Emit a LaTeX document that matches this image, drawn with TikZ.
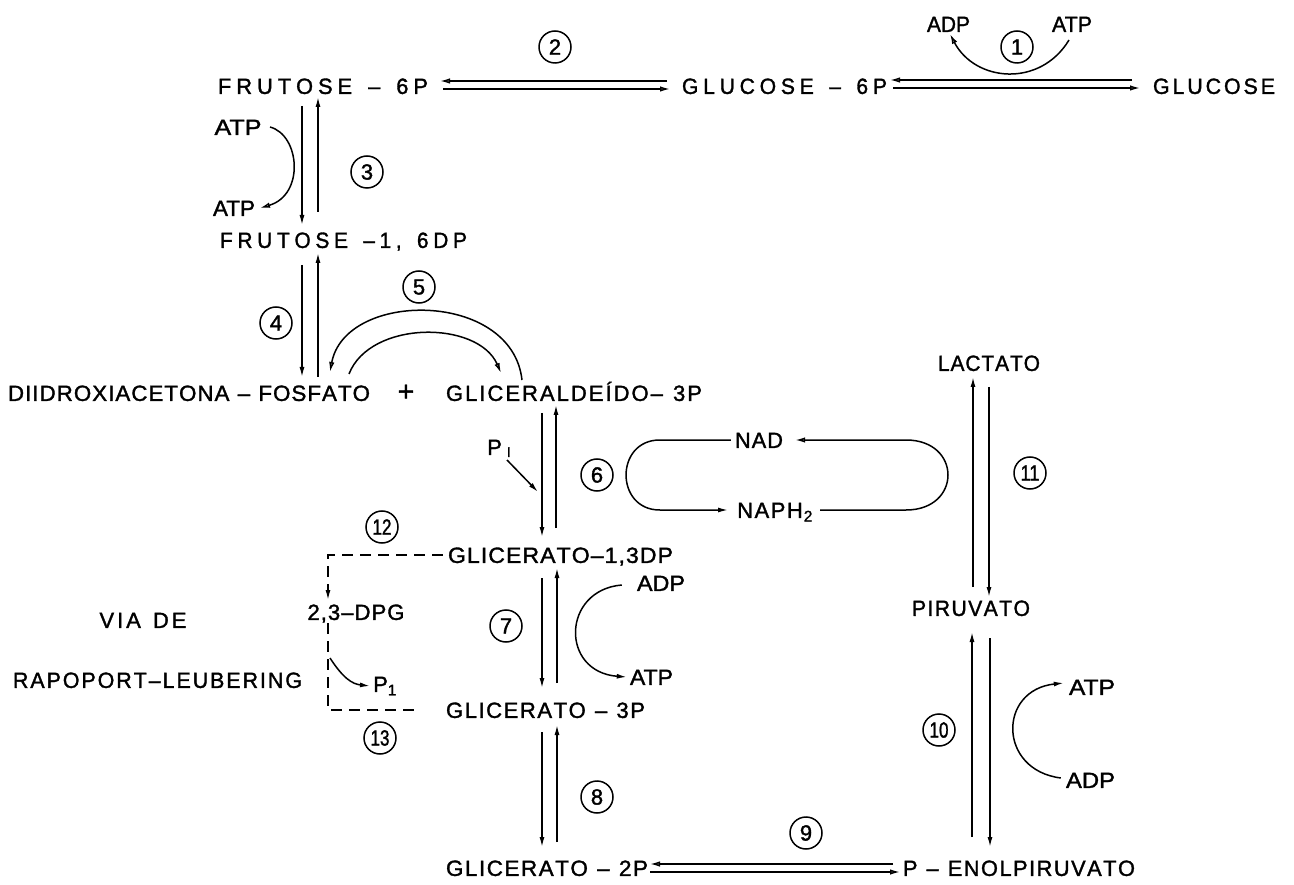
\documentclass[tikz,border=0pt]{standalone}
\usepackage{fontspec}
\setmainfont{Liberation Sans}
\newfontfamily\lt{Liberation Sans}[FakeBold=1.5]
\usepackage{graphicx}
\usetikzlibrary{arrows.meta}
\newcommand\lf{\lt\fontsize{22}{24}\selectfont}
\newcommand\fw[2]{\resizebox{#1pt}{\height}{#2}}
\ExplSyntaxOn
\NewDocumentCommand\spc{mm}{\tl_map_inline:nn{#2}{##1\kern#1pt}\kern-#1pt}
\ExplSyntaxOff
\tikzset{
  lab/.style={inner sep=0pt, text height=15.8pt, text depth=0pt, font=\lf},
  num/.style={circle, draw, line width=1.5pt, minimum size=32pt, inner sep=0pt, font=\lf},
  ln/.style={line width=1.5pt},
  ar/.style={ln, -{Latex[length=10pt,width=5pt]}},
  oar/.style={ln, -{Latex[open,length=10pt,width=5.5pt]}},
  dsh/.style={ln, dash pattern=on 11pt off 7pt},
}
\begin{document}
\begin{tikzpicture}[x=1pt,y=-1pt]
\useasboundingbox (0,0) rectangle (1294,885);
% labels
\node[lab] (f6p) at (323,86) {\fw{210}{\spc{5}{FRUTOSE~–~6P}}};
\node[lab] (g6p) at (784.5,86) {\fw{205}{\spc{5}{GLUCOSE~–~6P}}};
\node[lab] (glc) at (1214,86) {\fw{122}{\spc{3}{GLUCOSE}}};
\node[lab] (adp1) at (948.5,24) {\fw{43}{ADP}};
\node[lab] (atp1) at (1072,24) {\fw{40}{ATP}};
\node[lab] (atp3a) at (238,127) {\fw{47}{ATP}};
\node[lab] (atp3b) at (234,208) {\fw{42}{ATP}};
\node[lab] (f16dp) at (343.5,240) {\fw{247}{\spc{5}{FRUTOSE~–1,~6DP}}};
\node[lab] (dhap) at (189,393) {\fw{362}{\spc{1}{DIIDROXIACETONA~–~FOSFATO}}};
\node[lab] (plus) at (406,393) {\fontsize{28}{28}\selectfont +};
\node[lab] (gald) at (574,393) {\fw{256}{\spc{2}{GLICERALDEÍDO–~3P}}};
\node[lab] (lact) at (989,363) {\fw{102}{\spc{1}{LACTATO}}};
\node[lab] (nad) at (759,440) {\fw{48}{\spc{1}{NAD}}};
\node[lab, anchor=west] (naph) at (737,510) {\spc{1.5}{NAPH}\kern1pt\textsubscript{2}};
\node[lab] (pi1) at (499,447) {P\kern5pt\raisebox{-2pt}{\fontsize{14}{14}\selectfont I}};
\node[lab] (g13dp) at (560.5,555) {\fw{225}{\spc{1}{GLICERATO–1,3DP}}};
\node[lab] (dpg) at (356,612) {\fw{97}{\spc{1}{2,3–DPG}}};
\node[lab] (viade) at (143,620) {\fw{87}{\spc{3}{VIA~DE}}};
\node[lab] (adp7) at (661,583) {\fw{48}{ADP}};
\node[lab] (pir) at (971,608) {\fw{118}{\spc{1.5}{PIRUVATO}}};
\node[lab] (rapo) at (157.5,680) {\fw{289}{\spc{2}{RAPOPORT–LEUBERING}}};
\node[lab] (atp7) at (651.5,677) {\fw{43}{ATP}};
\node[lab, anchor=west] (p1b) at (373,684) {P\textsubscript{1}};
\node[lab] (atp10) at (1092,687) {\fw{46}{ATP}};
\node[lab] (g3p) at (545.5,710) {\fw{199}{\spc{1.5}{GLICERATO~–~3P}}};
\node[lab] (adp10) at (1090.5,780) {\fw{49}{ADP}};
\node[lab] (g2p) at (547,868) {\fw{202}{\spc{1.5}{GLICERATO~–~2P}}};
\node[lab] (pep) at (1019,868) {\fw{232}{\spc{1.5}{P~–~ENOLPIRUVATO}}};
% circled numbers
\node[num] (n1) at (1017,47) {1};
\node[num] (n2) at (555,47) {2};
\node[num] (n3) at (367,172) {3};
\node[num] (n4) at (276,323) {4};
\node[num] (n5) at (419,287) {5};
\node[num] (n6) at (597,475) {6};
\node[num] (n7) at (506,626) {7};
\node[num] (n8) at (597,797) {8};
\node[num] (n9) at (806,833) {9};
\node[num] (n10) at (939,730) {\fw{19}{10}};
\node[num] (n11) at (1030,473) {\fw{19}{11}};
\node[num] (n12) at (382,527) {\fw{19}{12}};
\node[num] (n13) at (380,738) {\fw{19}{13}};
% step 1
\draw[oar] ([shift={(-82,-6)}]glc.center) -- ([shift={(105.5,-6)}]g6p.center);
\draw[oar] ([shift={(108.5,2)}]g6p.center) -- ([shift={(-74,2)}]glc.center);
\draw[oar] ([shift={(-3,16)}]atp1.center) .. controls +(-29,48) and +(25,48) .. ([shift={(1.5,10)}]adp1.center);
% step 2
\draw[oar] ([shift={(-117.5,-5)}]g6p.center) -- ([shift={(117,-5)}]f6p.center);
\draw[oar] ([shift={(120,3)}]f6p.center) -- ([shift={(-114.5,3)}]g6p.center);
% step 3
\draw[ar] ([shift={(-21,20)}]f6p.center) -- ([shift={(-41.5,-15)}]f16dp.center);
\draw[ar] ([shift={(-25.5,-28)}]f16dp.center) -- ([shift={(-5,11)}]f6p.center);
\draw[oar] ([shift={(32,0)}]atp3a.center) .. controls +(30,8) and +(45,-13) .. ([shift={(26,0)}]atp3b.center);
% step 4
\draw[ar] ([shift={(-41.5,25)}]f16dp.center) -- ([shift={(113,-16)}]dhap.center);
\draw[ar] ([shift={(129,-16)}]dhap.center) -- ([shift={(-25.5,13)}]f16dp.center);
% step 5
\draw[oar] ([shift={(-52,-13)}]gald.center) .. controls +(-10,-90) and +(15,-82) .. ([shift={(141,-21)}]dhap.center);
\draw[oar] ([shift={(160,-19)}]dhap.center) .. controls +(21,-54) and +(-23,-53) .. ([shift={(-73,-20)}]gald.center);
% step 6
\draw[ar] ([shift={(-32,20)}]gald.center) -- ([shift={(-18.5,-18)}]g13dp.center);
\draw[ar] ([shift={(-4.5,-27)}]g13dp.center) -- ([shift={(-18,12)}]gald.center);
\coordinate (pin) at (538,492);
\draw[ar] ([shift={(8,13)}]pi1.center) -- (pin);
\draw[oar] ([shift={(83,0)}]naph.west) -- ++(86,0) .. controls +(56,0) and +(56,0) .. ++(0,-70) -- ([shift={(12,0)}]nad.east);
\draw[ar] ([shift={(-4,0)}]nad.west) -- ++(-71,0) .. controls +(-45,0) and +(-45,0) .. ++(0,70) -- ([shift={(-9,0)}]naph.west);
% step 7
\draw[ar] ([shift={(-18.5,23)}]g13dp.center) -- ([shift={(-3.5,-22)}]g3p.center);
\draw[ar] ([shift={(11.5,-27)}]g3p.center) -- ([shift={(-3.5,13)}]g13dp.center);
\draw[ar] ([shift={(-15,2)}]adp7.west) .. controls +(-60,5) and +(-67,-5) .. ([shift={(-3,0)}]atp7.west);
% step 8
\draw[ar] ([shift={(-3.5,22)}]g3p.center) -- ([shift={(-5,-21)}]g2p.center);
\draw[ar] ([shift={(10,-26)}]g2p.center) -- ([shift={(11.5,15)}]g3p.center);
% step 9
\draw[oar] ([shift={(-126,-4)}]pep.center) -- ([shift={(103,-4)}]g2p.center);
\draw[oar] ([shift={(103,4)}]g2p.center) -- ([shift={(-119,4)}]pep.center);
% step 10
\draw[ar] ([shift={(-47,-31)}]pep.center) -- ([shift={(1,24)}]pir.center);
\draw[ar] ([shift={(19,30)}]pir.center) -- ([shift={(-29,-21)}]pep.center);
\draw[ar] ([shift={(-5,-2)}]adp10.west) .. controls +(-63,-8) and +(-66,7) .. ([shift={(-5,-4)}]atp10.west);
% step 11
\draw[ar] ([shift={(2,-21)}]pir.center) -- ([shift={(-16,14)}]lact.center);
\draw[ar] ([shift={(0,24)}]lact.center) -- ([shift={(18,-11)}]pir.center);
% steps 12 and 13
\draw[dsh, -{Latex[length=10pt,width=5pt]}] ([xshift=-5pt]g13dp.west) -| ([shift={(-28,-12)}]dpg.center);
\draw[dsh] ([shift={(-28,11)}]dpg.center) |- ([shift={(-125.5,0)}]g3p.center);
\draw[ar] ([shift={(-26,46)}]dpg.center) .. controls +(13,20) and +(-18,-2) .. ([shift={(-3,2)}]p1b.west);
\end{tikzpicture}
\end{document}
